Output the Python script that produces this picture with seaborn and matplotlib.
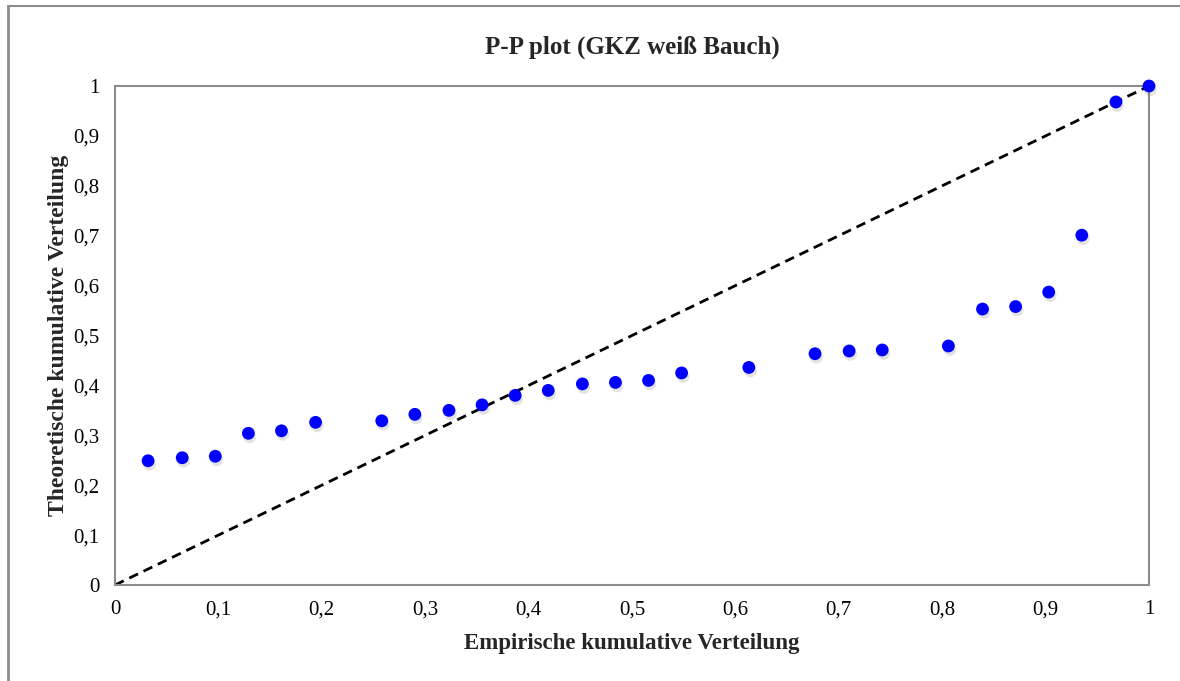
import matplotlib
matplotlib.use("Agg")
import matplotlib.pyplot as plt
import matplotlib.patheffects as pe
from matplotlib.lines import Line2D
import seaborn as sns
import pandas as pd

# Data
empirical = [0.032, 0.065, 0.097, 0.129, 0.161, 0.194, 0.258, 0.290, 0.323, 0.355,
             0.387, 0.419, 0.452, 0.484, 0.516, 0.548, 0.613, 0.677, 0.710, 0.742,
             0.806, 0.839, 0.871, 0.903, 0.935, 0.968, 1.000]
theoretical = [0.249, 0.255, 0.258, 0.304, 0.309, 0.326, 0.329, 0.342, 0.350, 0.361,
               0.380, 0.390, 0.403, 0.406, 0.410, 0.425, 0.436, 0.4635, 0.469, 0.471,
               0.479, 0.553, 0.558, 0.587, 0.701, 0.968, 1.000]
diag = [0.0, 1.0]
ticks = [0, 0.1, 0.2, 0.3, 0.4, 0.5, 0.6, 0.7, 0.8, 0.9, 1]
tick_labels = ["0", "0,1", "0,2", "0,3", "0,4", "0,5", "0,6", "0,7", "0,8", "0,9", "1"]

title = "P-P plot (GKZ weiß Bauch)"
xlabel = "Empirische kumulative Verteilung"
ylabel = "Theoretische kumulative Verteilung"

sns.set_style("white")
plt.rcParams["font.family"] = ["Liberation Serif", "DejaVu Serif"]

fig = plt.figure(figsize=(11.8, 6.81), dpi=100)
ax = fig.add_axes([115/1180, 1-585/681, (1149-115)/1180, (585-86)/681])

df = pd.DataFrame({"x": empirical, "y": theoretical})
sns.lineplot(x=diag, y=diag, ax=ax, color="black", lw=2.0, linestyle=(0, (3.5, 2.2)), zorder=2)
sns.scatterplot(data=df, x="x", y="y", ax=ax, color="#0000ff", s=85, edgecolor="none",
                zorder=3, clip_on=False)
for coll in ax.collections:
    coll.set_path_effects([pe.SimplePatchShadow(offset=(1.0, -2.5), alpha=0.22, shadow_rgbFace="gray"),
                           pe.Normal()])

ax.set_xlim(0, 1)
ax.set_ylim(0, 1)
ax.set_xticks(ticks)
ax.set_xticklabels(tick_labels)
ax.set_yticks(ticks)
ax.set_yticklabels(tick_labels)
ax.tick_params(axis="both", direction="inout", length=10, width=1.2, color="#888888",
               labelsize=15, labelcolor="#000000", pad=6)
ax.tick_params(axis="x", pad=6)
for s in ax.spines.values():
    s.set_color("#8c8c8c")
    s.set_linewidth(1.5)

ax.set_xlabel(xlabel, fontsize=16.5, fontweight="bold", labelpad=10)
ax.set_ylabel(ylabel, fontsize=17, fontweight="bold", labelpad=3)
ax.set_title(title, fontsize=18, fontweight="bold", pad=23)

# outer frame (left and top)
fig.add_artist(Line2D([7.5/1180, 7.5/1180], [0, 1-5.5/681], color="#8c8c8c", lw=2, transform=fig.transFigure))
fig.add_artist(Line2D([7.5/1180, 1], [1-5.5/681, 1-5.5/681], color="#8c8c8c", lw=1.5, transform=fig.transFigure))

fig.savefig("out.png", dpi=100)
